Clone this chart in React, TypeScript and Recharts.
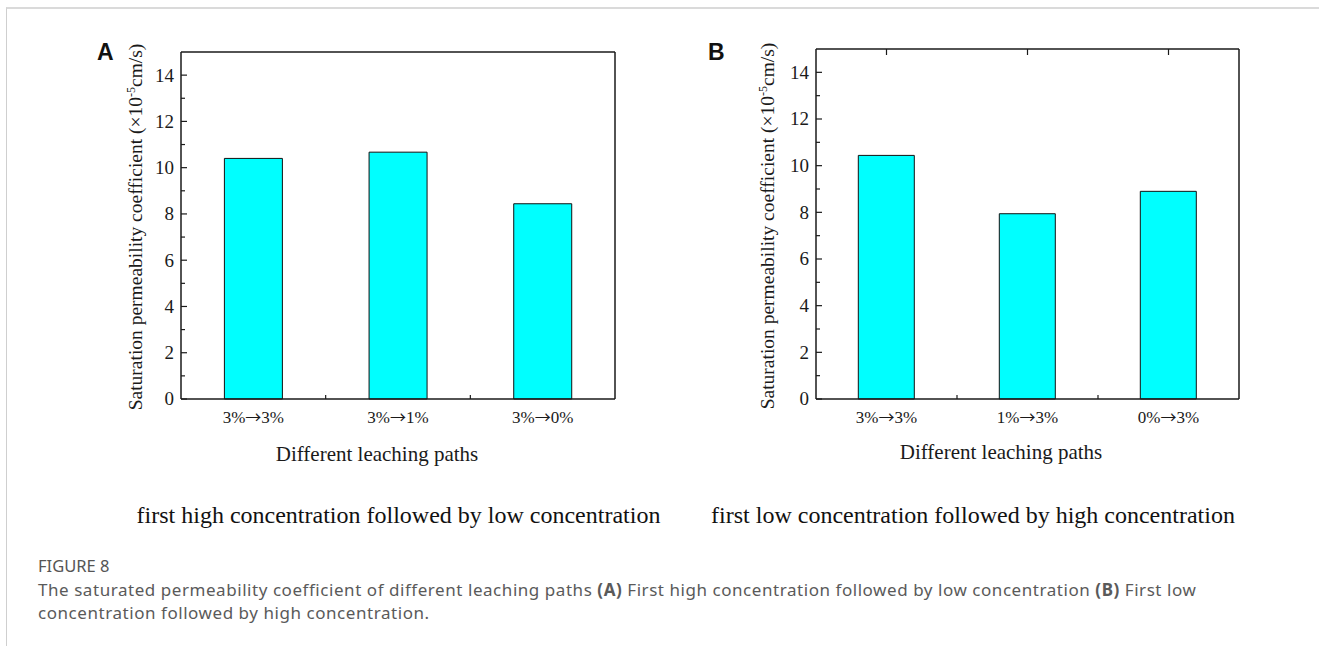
import React from "react"
import { Bar, BarChart, XAxis, YAxis } from "recharts"

// leaching paths and saturated permeability (x10^-5 cm/s)
const pathsA = ["3%→3%", "3%→1%", "3%→0%"]
const valuesA = [10.4, 10.67, 8.44]
const pathsB = ["3%→3%", "1%→3%", "0%→3%"]
const valuesB = [10.44, 7.94, 8.9]
const yTicks = [0, 1, 2, 3, 4, 5, 6, 7, 8, 9, 10, 11, 12, 13, 14]

const dataA = pathsA.map((path, i) => ({ path, value: valuesA[i] }))
const dataB = pathsB.map((path, i) => ({ path, value: valuesB[i] }))

const SERIF = "'Liberation Serif', 'Times New Roman', serif"
const SANS = "'Noto Sans', 'Open Sans', sans-serif"
const INK = "#1a1a1a"

const LeftTick = (props: any) => {
  const { x, y, payload } = props
  const major = payload.value % 2 === 0
  return (
    <g>
      <line x1={x} x2={x + (major ? 6 : 4)} y1={y} y2={y} stroke={INK} strokeWidth={1.2} />
      {major && (
        <text x={x - 7} y={y} dy="0.34em" textAnchor="end" fontSize={19} fontFamily={SERIF} fill={INK}>
          {payload.value}
        </text>
      )}
    </g>
  )
}

const RightTick = (props: any) => {
  const { x, y, payload } = props
  const major = payload.value % 2 === 0
  return <line x1={x - (major ? 6 : 4)} x2={x} y1={y} y2={y} stroke={INK} strokeWidth={1.2} />
}

const TopTick = (props: any) => {
  const { x, y } = props
  return <line x1={x} x2={x} y1={y} y2={y + 6} stroke={INK} strokeWidth={1.2} />
}

// category label "a→b" with the arrow set in a font that has a long, solid arrow
const PathLabel = ({ x, y, value }: { x: number; y: number; value: string }) => {
  const [from, to] = value.split("→")
  return (
    <text x={x} y={y} textAnchor="middle" fontSize={17} fontFamily={SERIF} fill={INK}>
      {from}
      <tspan fontFamily="'Noto Sans CJK SC', 'DejaVu Sans', sans-serif" fontSize={16}>
        →
      </tspan>
      {to}
    </text>
  )
}

const makeBottomTick = (halfBand: number, count: number) => (props: any) => {
  const { x, y, payload, index } = props
  return (
    <g>
      {index < count - 1 && (
        <line x1={x + halfBand} x2={x + halfBand} y1={y} y2={y - 4} stroke={INK} strokeWidth={1.2} />
      )}
      <PathLabel x={x} y={y + 24} value={payload.value} />
    </g>
  )
}

const YTitle = ({ cx, cy }: { cx: number; cy: number }) => (
  <text
    x={cx}
    y={cy}
    transform={`rotate(-90, ${cx}, ${cy})`}
    dy="0.34em"
    textAnchor="middle"
    fontSize={19.5}
    fontFamily={SERIF}
    fill={INK}
  >
    Saturation permeability coefficient (×10
    <tspan dy={-7} fontSize={12}>-5</tspan>
    <tspan dy={7}>cm/s)</tspan>
  </text>
)

const XTitle = ({ cx, cy }: { cx: number; cy: number }) => (
  <text x={cx} y={cy} dy="0.34em" textAnchor="middle" fontSize={21} fontFamily={SERIF} fill={INK}>
    Different leaching paths
  </text>
)

type PanelProps = {
  data: { path: string; value: number }[]
  left: number
  margin: { top: number; right: number; bottom: number; left: number }
  plotWidth: number
  frameTicks: boolean
  yTitleX: number
  yTitleY: number
  xTitleX: number
  xTitleY: number
}

function Panel({ data, left, margin, plotWidth, frameTicks, yTitleX, yTitleY, xTitleX, xTitleY }: PanelProps) {
  const axisLine = { stroke: INK, strokeWidth: 1.5 }
  return (
    <div style={{ position: "absolute", left, top: 0 }}>
      <BarChart width={660} height={480} data={data} margin={margin} barCategoryGap="30%">
        <XAxis
          xAxisId="b"
          dataKey="path"
          height={60}
          axisLine={axisLine}
          tickLine={false}
          tickSize={0}
          tickMargin={0}
          interval={0}
          tick={makeBottomTick(plotWidth / 6, data.length)}
          label={<XTitle cx={xTitleX} cy={xTitleY} />}
        />
        <XAxis
          xAxisId="t"
          dataKey="path"
          orientation="top"
          height={10}
          axisLine={axisLine}
          tickLine={false}
          tickSize={0}
          tickMargin={0}
          interval={0}
          tick={frameTicks ? <TopTick /> : false}
        />
        <YAxis
          yAxisId="l"
          type="number"
          domain={[0, 15]}
          ticks={yTicks}
          interval={0}
          width={60}
          axisLine={axisLine}
          tickLine={false}
          tickSize={0}
          tickMargin={0}
          tick={<LeftTick />}
          label={<YTitle cx={yTitleX} cy={yTitleY} />}
        />
        <YAxis
          yAxisId="r"
          orientation="right"
          type="number"
          domain={[0, 15]}
          ticks={yTicks}
          interval={0}
          width={10}
          axisLine={axisLine}
          tickLine={false}
          tickSize={0}
          tickMargin={0}
          tick={frameTicks ? <RightTick /> : false}
        />
        <Bar
          xAxisId="b"
          yAxisId="l"
          dataKey="value"
          fill="#00FFFF"
          stroke="#111"
          strokeWidth={1}
          isAnimationActive={false}
        />
      </BarChart>
    </div>
  )
}

export default function App() {
  return (
    <div
      style={{
        position: "absolute",
        left: 0,
        top: 0,
        width: 1319,
        height: 646,
        overflow: "hidden",
        background: "#fff",
      }}
    >
      <div
        style={{
          position: "absolute",
          left: 6,
          top: 7,
          width: 1320,
          height: 650,
          borderTop: "2px solid #dadada",
          borderLeft: "1px solid #cfcfcf",
        }}
      />
      <Panel
        data={dataA}
        left={0}
        margin={{ top: 42, right: 35, bottom: 21, left: 121 }}
        plotWidth={434}
        frameTicks={false}
        yTitleX={135}
        yTitleY={227}
        xTitleX={377}
        xTitleY={454}
      />
      <Panel
        data={dataB}
        left={640}
        margin={{ top: 39, right: 51, bottom: 21, left: 116 }}
        plotWidth={423}
        frameTicks={true}
        yTitleX={127}
        yTitleY={226}
        xTitleX={361}
        xTitleY={452}
      />
      <svg
        width={1319}
        height={646}
        style={{ position: "absolute", left: 0, top: 0, pointerEvents: "none" }}
      >
        <text x={97} y={60} fontSize={23} fontWeight={700} fontFamily="'Liberation Sans', Arial, sans-serif" fill="#111">
          A
        </text>
        <text x={708} y={60} fontSize={23} fontWeight={700} fontFamily="'Liberation Sans', Arial, sans-serif" fill="#111">
          B
        </text>
        <text x={398.5} y={523} textAnchor="middle" fontSize={24} fontFamily={SERIF} fill="#111">
          first high concentration followed by low concentration
        </text>
        <text x={973} y={523} textAnchor="middle" fontSize={24} fontFamily={SERIF} fill="#111">
          first low concentration followed by high concentration
        </text>
        <text x={38} y={572} fontSize={16.5} fontFamily={SANS} fill="#555">
          FIGURE 8
        </text>
        <text x={38} y={596} fontSize={17} letterSpacing={0.55} fontFamily={SANS} fill="#5a5a5a">
          The saturated permeability coefficient of different leaching paths <tspan fontWeight={700}>(A)</tspan> First
          high concentration followed by low concentration <tspan fontWeight={700}>(B)</tspan> First low
        </text>
        <text x={38} y={619} fontSize={17} letterSpacing={0.55} fontFamily={SANS} fill="#5a5a5a">
          concentration followed by high concentration.
        </text>
      </svg>
    </div>
  )
}
